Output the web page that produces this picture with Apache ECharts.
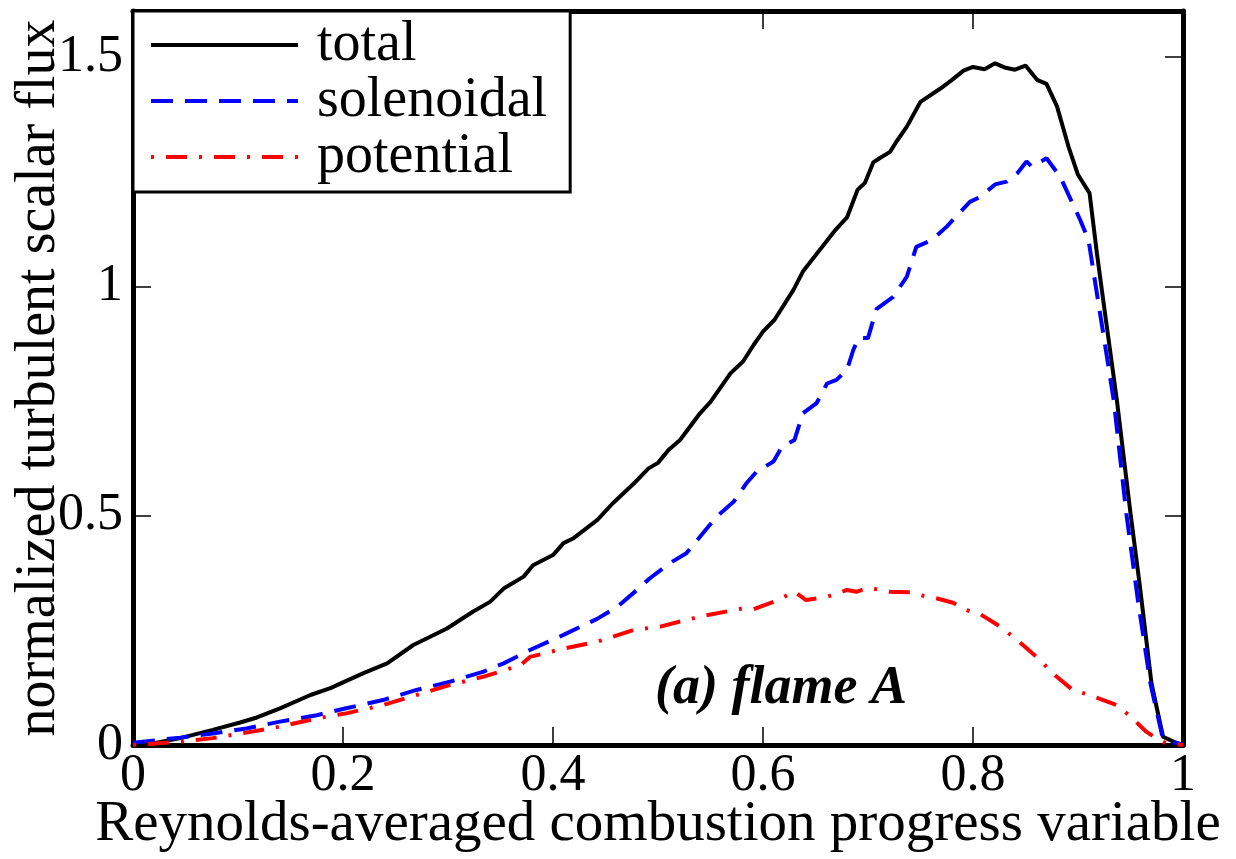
<!DOCTYPE html>
<html>
<head>
<meta charset="utf-8">
<script src="https://cdn.jsdelivr.net/npm/echarts@6/dist/echarts.min.js"></script>
<style>
html,body{margin:0;padding:0;background:#fff;}
#chart{width:1236px;height:859px;}
</style>
</head>
<body>
<div id="chart"></div>
<script>
// ---- data ----
const seriesNames = ['total', 'solenoidal', 'potential'];

const totalX = [0,0.02,0.045,0.076,0.102,0.118,0.140,0.169,0.188,0.219,0.242,0.267,0.299,0.324,0.340,0.353,0.372,0.381,0.400,0.410,0.419,0.442,0.457,0.477,0.491,0.500,0.510,0.521,0.540,0.550,0.569,0.581,0.591,0.600,0.611,0.629,0.638,0.654,0.668,0.680,0.690,0.697,0.705,0.711,0.721,0.727,0.737,0.750,0.769,0.780,0.791,0.800,0.811,0.821,0.830,0.840,0.850,0.861,0.870,0.880,0.891,0.900,0.911,0.918,0.924,0.937,0.950,0.959,0.970,0.981,0.994,1.0];
const totalY = [0,0.004,0.015,0.033,0.049,0.060,0.080,0.109,0.124,0.156,0.178,0.218,0.254,0.291,0.312,0.341,0.367,0.392,0.414,0.440,0.450,0.490,0.527,0.570,0.603,0.615,0.643,0.665,0.723,0.748,0.810,0.836,0.872,0.901,0.927,0.992,1.032,1.079,1.12,1.15,1.21,1.225,1.27,1.279,1.293,1.315,1.348,1.402,1.431,1.450,1.470,1.478,1.473,1.486,1.477,1.472,1.481,1.450,1.441,1.392,1.304,1.243,1.203,1.072,0.970,0.752,0.505,0.345,0.134,0.018,0.004,0];

const solX = [0,0.045,0.076,0.108,0.140,0.175,0.203,0.238,0.270,0.302,0.334,0.353,0.378,0.410,0.442,0.461,0.480,0.492,0.511,0.527,0.540,0.556,0.572,0.584,0.594,0.610,0.618,0.630,0.638,0.651,0.661,0.670,0.680,0.686,0.691,0.700,0.708,0.724,0.737,0.746,0.761,0.775,0.797,0.807,0.821,0.832,0.842,0.851,0.856,0.870,0.883,0.902,0.910,0.915,0.919,0.934,0.946,0.957,0.969,0.980,0.991,1.0];
const solY = [0.005,0.016,0.025,0.036,0.051,0.065,0.080,0.098,0.120,0.138,0.160,0.178,0.207,0.240,0.275,0.301,0.338,0.363,0.396,0.418,0.454,0.498,0.530,0.570,0.596,0.618,0.650,0.665,0.723,0.745,0.788,0.796,0.818,0.861,0.887,0.887,0.950,0.977,1.021,1.086,1.101,1.130,1.184,1.195,1.222,1.228,1.246,1.272,1.261,1.279,1.239,1.145,1.101,1.028,0.970,0.752,0.505,0.316,0.134,0.022,0.007,0];

const potX = [0,0.045,0.076,0.108,0.140,0.175,0.203,0.238,0.270,0.302,0.334,0.369,0.378,0.410,0.442,0.477,0.502,0.540,0.581,0.591,0.610,0.630,0.641,0.661,0.680,0.689,0.700,0.721,0.740,0.753,0.765,0.781,0.794,0.807,0.826,0.842,0.864,0.876,0.895,0.911,0.937,0.950,0.965,0.977,0.984,1.0];
const potY = [0,0.007,0.015,0.027,0.040,0.058,0.069,0.087,0.109,0.131,0.149,0.174,0.192,0.210,0.225,0.251,0.258,0.280,0.298,0.296,0.312,0.334,0.316,0.323,0.338,0.334,0.343,0.334,0.333,0.325,0.320,0.310,0.294,0.285,0.258,0.229,0.185,0.156,0.120,0.109,0.087,0.062,0.029,0.011,0.004,0];

const xTicks = [0, 0.2, 0.4, 0.6, 0.8, 1];
const yTicks = [0, 0.5, 1, 1.5];

const xTitle = 'Reynolds-averaged combustion progress variable';
const yTitle = 'normalized turbulent scalar flux';
const annotation = '(a) flame A';

// ---- build ----
const zip = (xs, ys) => xs.map((x, i) => [x, ys[i]]);
const FONT = 'Liberation Serif';

const chart = echarts.init(document.getElementById('chart'), null, {renderer: 'canvas'});

const tickStyle = {show: true, inside: true, length: 18, lineStyle: {color: '#000', width: 1.5}};
const lineAxis = {show: true, onZero: false, lineStyle: {color: '#000', width: 5}};

const styles = [
  {color: '#000000', type: 'solid'},
  {color: '#0000ff', type: [22, 12]},
  {color: '#ff0000', type: [3, 12, 21, 12]}
];
const LW = 4;

chart.setOption({
  animation: false,
  backgroundColor: '#fff',
  grid: {left: 133, right: 53, top: 11, bottom: 114, containLabel: false, outerBoundsMode: 'none'},
  xAxis: [
    {
      type: 'value', min: 0, max: 1, interval: 0.2, position: 'bottom',
      axisLine: lineAxis,
      axisTick: Object.assign({customValues: xTicks}, tickStyle),
      axisLabel: {customValues: xTicks, fontFamily: FONT, fontSize: 52, color: '#000', margin: 5},
      splitLine: {show: false},
      name: xTitle, nameLocation: 'middle', nameGap: 52, nameMoveOverlap: false,
      nameTextStyle: {fontFamily: FONT, fontSize: 57, color: '#000'}
    },
    {
      type: 'value', min: 0, max: 1, interval: 0.2, position: 'top',
      axisLine: lineAxis,
      axisTick: Object.assign({customValues: xTicks}, tickStyle),
      axisLabel: {show: false},
      splitLine: {show: false}
    }
  ],
  yAxis: [
    {
      type: 'value', min: 0, max: 1.6, interval: 0.5, position: 'left',
      axisLine: lineAxis,
      axisTick: Object.assign({customValues: yTicks}, tickStyle),
      axisLabel: {customValues: yTicks, fontFamily: FONT, fontSize: 52, color: '#000', margin: 10},
      splitLine: {show: false},
      name: yTitle, nameLocation: 'middle', nameGap: 66, nameRotate: 90, nameMoveOverlap: false,
      nameTextStyle: {fontFamily: FONT, fontSize: 56, color: '#000'}
    },
    {
      type: 'value', min: 0, max: 1.6, interval: 0.5, position: 'right',
      axisLine: lineAxis,
      axisTick: Object.assign({customValues: yTicks}, tickStyle),
      axisLabel: {show: false},
      splitLine: {show: false}
    }
  ],
  legend: {
    left: 133, top: 11, orient: 'vertical',
    padding: [6, 23, 7, 16],
    itemGap: 0,
    itemWidth: 147, itemHeight: 4,
    backgroundColor: '#fff', borderColor: '#000', borderWidth: 3, borderRadius: 0,
    itemStyle: {opacity: 0},
    textStyle: {fontFamily: FONT, fontSize: 56, color: '#000', lineHeight: 54, padding: [0, 0, 0, 14]},
    data: seriesNames.map((n, i) => ({name: n, lineStyle: {color: styles[i].color, width: LW, type: styles[i].type}}))
  },
  series: seriesNames.map((n, i) => ({
    name: n, type: 'line',
    data: i === 0 ? zip(totalX, totalY) : i === 1 ? zip(solX, solY) : zip(potX, potY),
    symbol: 'none', smooth: false,
    lineStyle: {color: styles[i].color, width: LW, type: styles[i].type},
    itemStyle: {color: styles[i].color}
  })),
  graphic: [
    {
      type: 'text', left: 655, top: 662, z: 10,
      style: {text: annotation, font: 'italic bold 54px "Liberation Serif"', fill: '#000'}
    }
  ]
});
</script>
</body>
</html>
